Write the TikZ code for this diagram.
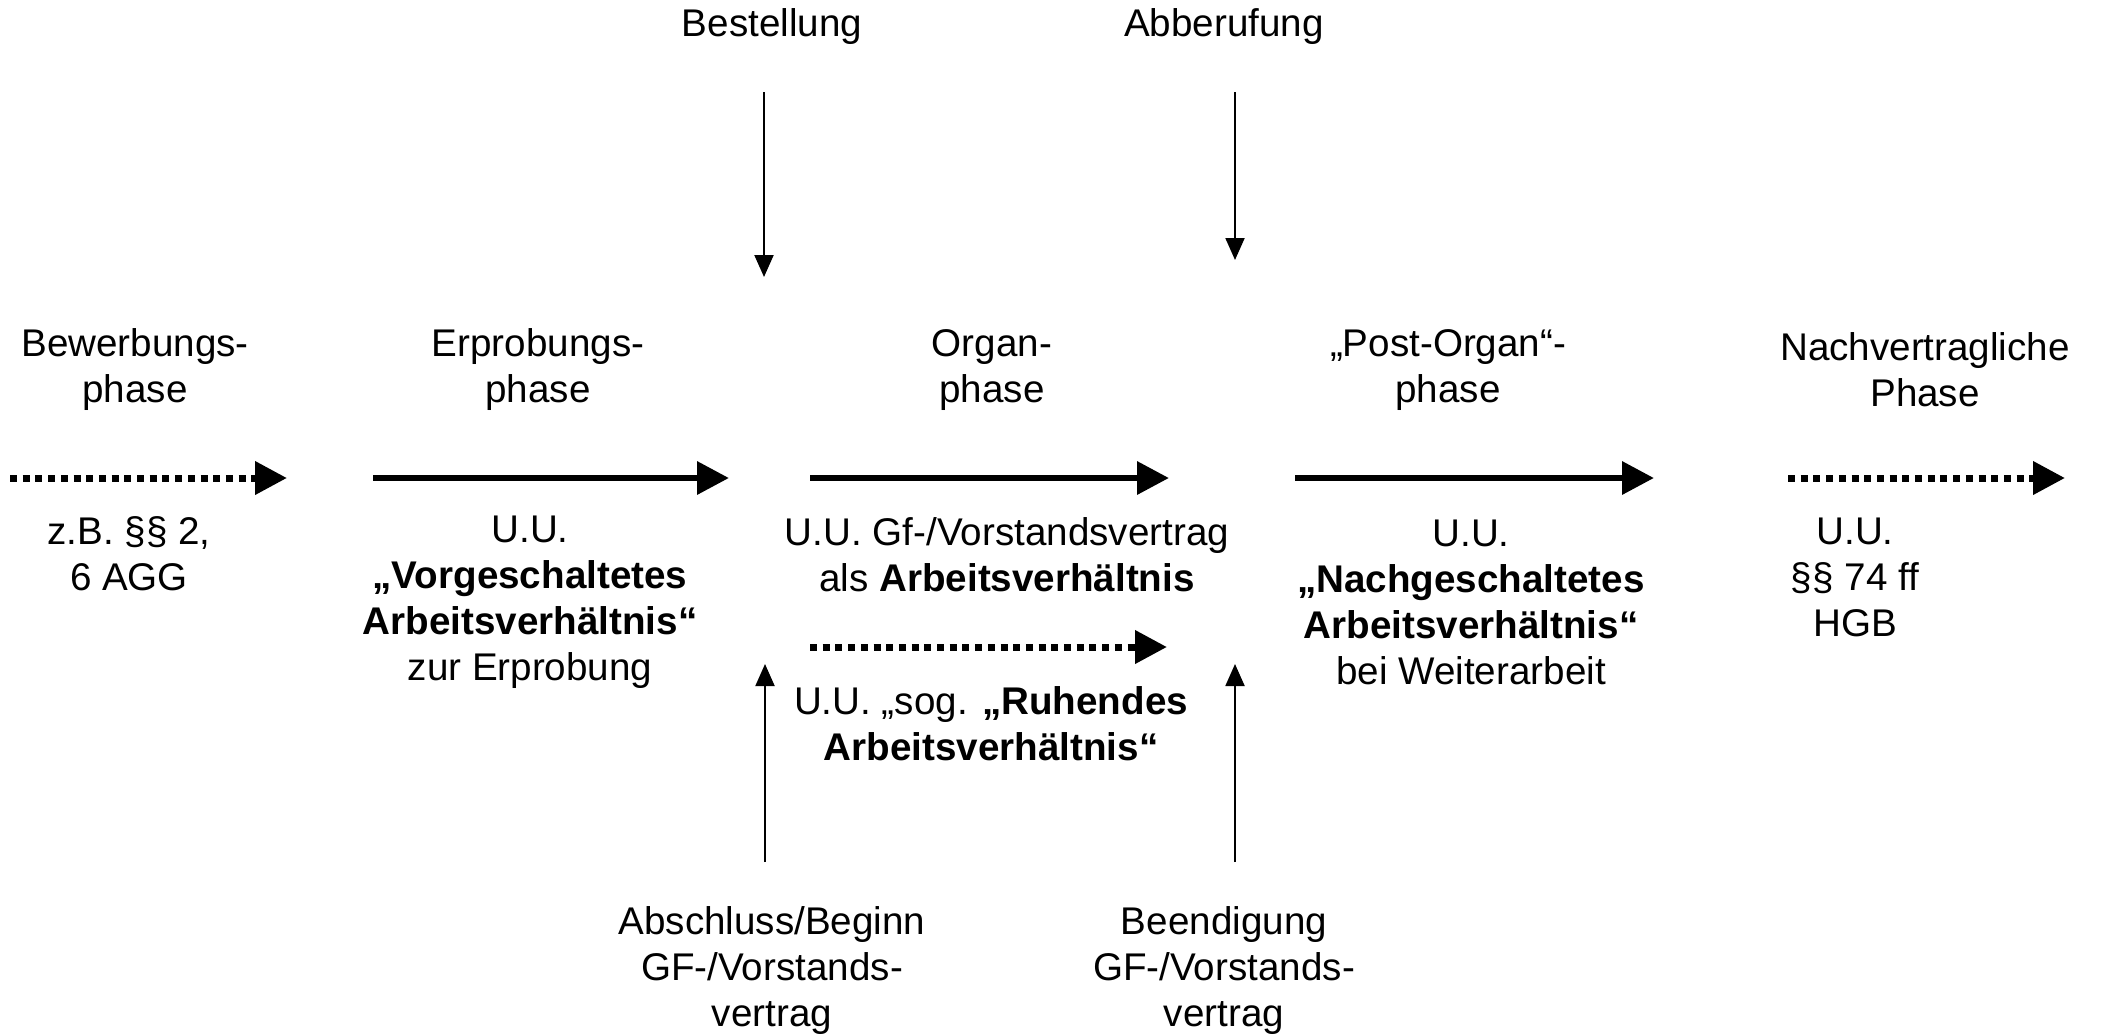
\documentclass[tikz,border=0pt]{standalone}
\usepackage{fontspec}
\setmainfont{Liberation Sans}
\usetikzlibrary{arrows.meta}
\begin{document}
\begin{tikzpicture}[x=0.5pt,y=-0.5pt,
  lbl/.style={inner sep=0pt,align=center,font=\fontsize{19.3pt}{23pt}\selectfont},
  thick arrow/.style={line width=3.25pt,-{Triangle[length=16pt,width=16pt]}},
  dot arrow/.style={line width=3.5pt,dash pattern=on 3.5pt off 2.85pt,-{Triangle[length=16pt,width=16pt]}},
  thin arrow/.style={line width=1pt,-{Triangle[length=11pt,width=9.5pt]}}]
\useasboundingbox (0,0) rectangle (2102,1035);
% top labels
\node[lbl] (best) at (772,27) {Bestellung};
\node[lbl] (abb) at (1224,27) {Abberufung};
\coordinate (bestA) at (764,92);
\coordinate (bestB) at (764,277);
\coordinate (abbA) at (1235,92);
\coordinate (abbB) at (1235,260);
\draw[thin arrow] (bestA) -- (bestB);
\draw[thin arrow] (abbA) -- (abbB);
% phase labels
\node[lbl] (p1) at (135,370) {Bewerbungs-\\phase};
\node[lbl] (p2) at (538,370) {Erprobungs-\\phase};
\node[lbl] (p3) at (992,370) {Organ-\\phase};
\node[lbl] (p4) at (1448,370) {„Post-Organ“-\\phase};
\node[lbl] (p5) at (1925,370) {Nachvertragliche\\Phase};
% horizontal arrows
\coordinate (a1s) at (10,478); \coordinate (a1e) at (287,478);
\coordinate (a2s) at (373,478); \coordinate (a2e) at (729,478);
\coordinate (a3s) at (810,478); \coordinate (a3e) at (1169,478);
\coordinate (a4s) at (1295,478); \coordinate (a4e) at (1654,478);
\coordinate (a5s) at (1788,478); \coordinate (a5e) at (2065,478);
\coordinate (a6s) at (810,647); \coordinate (a6e) at (1167,647);
\draw[dot arrow] (a1s) -- (a1e);
\draw[thick arrow] (a2s) -- (a2e);
\draw[thick arrow] (a3s) -- (a3e);
\draw[thick arrow] (a4s) -- (a4e);
\draw[dot arrow] (a5s) -- (a5e);
\draw[dot arrow] (a6s) -- (a6e);
% descriptions
\node[lbl] (d1) at (129,554) {z.B. §§ 2,\\6 AGG};
\node[lbl] (d2) at (530,602) {U.U.\\\textbf{„Vorgeschaltetes}\\\textbf{Arbeitsverhältnis“}\\zur Erprobung};
\node[lbl] (d3) at (1007,555) {U.U. Gf-/Vorstandsvertrag\\als \textbf{Arbeitsverhältnis}};
\node[lbl] (d4) at (991,724) {U.U. „sog. \textbf{„Ruhendes}\\\textbf{Arbeitsverhältnis“}};
\node[lbl] (d5) at (1471,602) {U.U.\\\textbf{„Nachgeschaltetes}\\\textbf{Arbeitsverhältnis“}\\bei Weiterarbeit};
\node[lbl] (d6) at (1855,577) {U.U.\\§§ 74 ff\\HGB};
% bottom labels and arrows
\node[lbl] (abs) at (772,970) {Abschluss/Beginn\\GF-/Vorstands-\\vertrag};
\node[lbl] (been) at (1224,970) {Beendigung\\GF-/Vorstands-\\vertrag};
\coordinate (absA) at (765,862); \coordinate (absB) at (765,664);
\coordinate (beenA) at (1235,862); \coordinate (beenB) at (1235,664);
\draw[thin arrow] (absA) -- (absB);
\draw[thin arrow] (beenA) -- (beenB);
\end{tikzpicture}
\end{document}
